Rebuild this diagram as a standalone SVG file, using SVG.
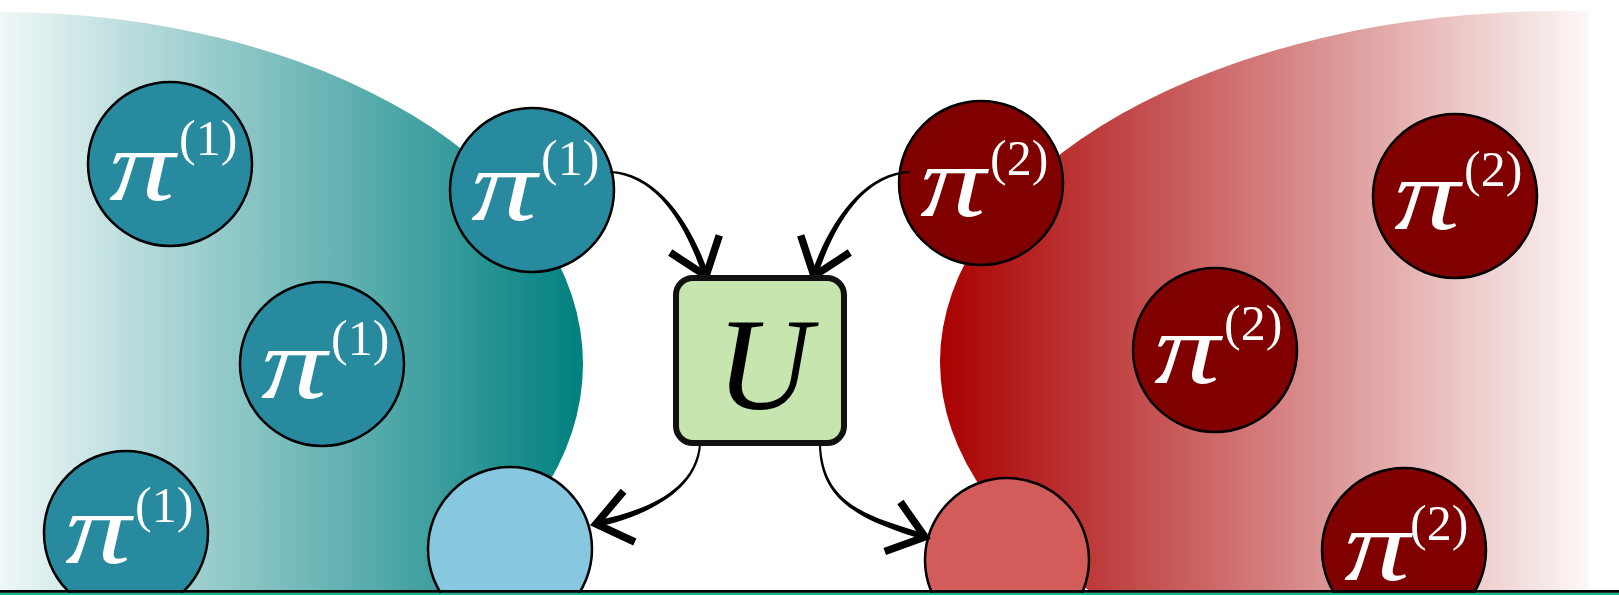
<svg xmlns="http://www.w3.org/2000/svg" width="1619" height="595" viewBox="0 0 1619 595">
<defs>
  <linearGradient id="gTeal" gradientUnits="userSpaceOnUse" x1="0" y1="0" x2="583" y2="0">
    <stop offset="0" stop-color="#008080" stop-opacity="0.06"/>
    <stop offset="1" stop-color="#008080" stop-opacity="1"/>
  </linearGradient>
  <linearGradient id="gRed" gradientUnits="userSpaceOnUse" x1="940" y1="0" x2="1588" y2="0">
    <stop offset="0" stop-color="#aa0000" stop-opacity="1"/>
    <stop offset="1" stop-color="#aa0000" stop-opacity="0.03"/>
  </linearGradient>
  <clipPath id="clipL"><rect x="0" y="0" width="1619" height="591"/></clipPath>
  <clipPath id="clipR"><rect x="0" y="0" width="1588" height="591"/></clipPath>
  <path id="chev" d="M-34,-26 L0,0 L-34,26" fill="none" stroke="#000" stroke-width="7.5" stroke-linejoin="miter" stroke-miterlimit="10"/>
</defs>
<style>
  .node { stroke: #000; stroke-width: 2.5; }
  .teal { fill: #288a9e; }
  .red { fill: #800000; }
  .lblue { fill: #87c7df; }
  .lred { fill: #d15c59; }
  .pi { font-family: "Liberation Serif", "DejaVu Serif", serif; font-style: italic; font-size: 102px; fill: #ffffff; }
  .sup { font-family: "Liberation Serif", "DejaVu Serif", serif; font-style: normal; font-size: 50px; fill: #ffffff; }
  .U { font-family: "Liberation Serif", "DejaVu Serif", serif; font-style: italic; font-size: 132px; fill: #000; }
  .conn { fill: #000; stroke: none; }
</style>

<g id="regions">
  <ellipse cx="0" cy="364" rx="583" ry="352" fill="url(#gTeal)" clip-path="url(#clipL)"/>
  <ellipse cx="1560" cy="362" rx="620" ry="351" fill="url(#gRed)" clip-path="url(#clipR)"/>
</g>

<g id="pi1-a"><circle class="node teal" cx="170" cy="164" r="82"/><text class="pi" x="109" y="200" textLength="66" lengthAdjust="spacingAndGlyphs">π</text><text class="sup" x="179" y="155">(1)</text></g>
<g id="pi1-b"><circle class="node teal" cx="532" cy="190" r="82"/><text class="pi" x="471" y="220" textLength="66" lengthAdjust="spacingAndGlyphs">π</text><text class="sup" x="541" y="175">(1)</text></g>
<g id="pi1-c"><circle class="node teal" cx="322" cy="364" r="82"/><text class="pi" x="261" y="398" textLength="66" lengthAdjust="spacingAndGlyphs">π</text><text class="sup" x="331" y="355">(1)</text></g>
<g id="pi1-d"><circle class="node teal" cx="126" cy="533" r="82"/><text class="pi" x="65" y="563" textLength="66" lengthAdjust="spacingAndGlyphs">π</text><text class="sup" x="135" y="522">(1)</text></g>
<g id="out1"><circle class="node lblue" cx="510" cy="549" r="82"/></g>

<g id="pi2-a"><circle class="node red" cx="981" cy="183" r="82"/><text class="pi" x="920" y="216" textLength="66" lengthAdjust="spacingAndGlyphs">π</text><text class="sup" x="990" y="175">(2)</text></g>
<g id="pi2-b"><circle class="node red" cx="1455" cy="196" r="82"/><text class="pi" x="1394" y="229" textLength="66" lengthAdjust="spacingAndGlyphs">π</text><text class="sup" x="1464" y="186">(2)</text></g>
<g id="pi2-c"><circle class="node red" cx="1215" cy="350" r="82"/><text class="pi" x="1154" y="383" textLength="66" lengthAdjust="spacingAndGlyphs">π</text><text class="sup" x="1224" y="340">(2)</text></g>
<g id="pi2-d"><circle class="node red" cx="1404" cy="550" r="82"/><text class="pi" x="1344" y="580" textLength="66" lengthAdjust="spacingAndGlyphs">π</text><text class="sup" x="1410" y="540">(2)</text></g>
<g id="out2"><circle class="node lred" cx="1007" cy="560" r="82"/></g>

<g id="connectors">
  <path class="conn" d="M609.96,173 C655.92,175.8 685.34,222.88 702.96,277.01 L709.04,274.99 C690.66,221.12 656.08,172.2 610.04,171 Z"/>
  <use href="#chev" transform="translate(706,276) rotate(70.7)"/>
  <path class="conn" d="M910.04,173 C864.08,175.8 834.66,222.88 817.04,277.01 L810.96,274.99 C829.34,221.12 863.92,172.2 909.96,171 Z"/>
  <use href="#chev" transform="translate(814,276) rotate(109.3)"/>
  <path class="conn" d="M699,443.94 C695.2,491.89 642.42,511.26 595.33,520.87 L596.67,527.13 C643.58,516.74 698.8,492.11 701,444.06 Z"/>
  <use href="#chev" transform="translate(596,524) rotate(167.5)"/>
  <path class="conn" d="M819,444.02 C819.2,505.03 867.16,521.67 924.04,540.05 L925.96,533.95 C868.84,516.33 822.8,504.97 821,443.98 Z"/>
  <use href="#chev" transform="translate(925,537) rotate(17.5)"/>
</g>

<g id="U-box">
  <rect x="676" y="278" width="168" height="165" rx="17" ry="17" fill="#c7e5ae" stroke="#111" stroke-width="6"/>
  <text class="U" x="764" y="409" text-anchor="middle">U</text>
</g>

<g id="baseline">
  <rect x="0" y="592.6" width="1619" height="2.4" fill="#1fae8e"/>
  <line x1="0" y1="591.3" x2="1619" y2="591.3" stroke="#000" stroke-width="2.7"/>
</g>
</svg>
